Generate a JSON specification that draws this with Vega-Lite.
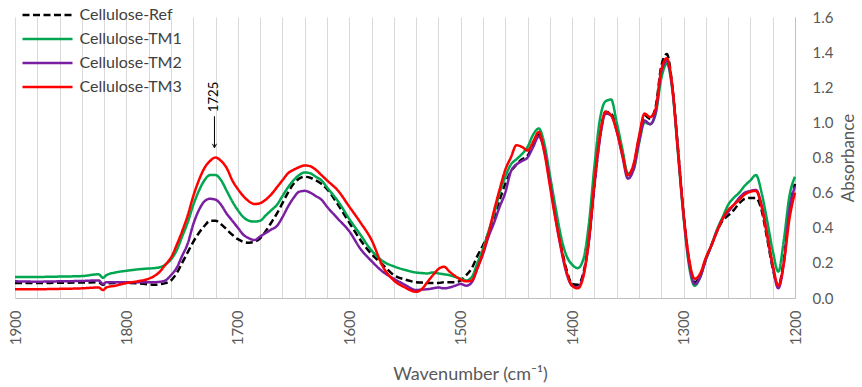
{
  "$schema": "https://vega.github.io/schema/vega-lite/v6.json",
  "width": 780,
  "height": 281,
  "autosize": "none",
  "padding": {"left": 15, "top": 17, "right": 67, "bottom": 89},
  "background": "white",
  "config": {
    "view": {"stroke": null},
    "font": "Lato"
  },
  "encoding": {
    "x": {
      "field": "w", "type": "quantitative",
      "scale": {"domain": [1200, 1900], "reverse": true, "nice": false, "zero": false},
      "axis": {
        "values": [1900,1880,1860,1840,1820,1800,1780,1760,1740,1720,1700,1680,1660,1640,1620,1600,1580,1560,1540,1520,1500,1480,1460,1440,1420,1400,1380,1360,1340,1320,1300,1280,1260,1240,1220,1200],
        "labelExpr": "datum.value % 100 === 0 ? datum.label : ''",
        "format": "d",
        "grid": true, "gridColor": "#d9d9d9", "gridWidth": 1,
        "ticks": false,
        "domainColor": "#bfbfbf", "domainWidth": 1,
        "labelAngle": 270, "labelFontSize": 15, "labelColor": "#595959", "labelPadding": 12,
        "labelFlush": false, "labelOverlap": false,
        "title": "Wavenumber  (cm⁻¹)", "titleFontSize": 18, "titleFontWeight": "normal", "titleColor": "#595959",
        "titleX": 455, "titleY": 76, "titleAlign": "center", "titleBaseline": "middle"
      }
    },
    "y": {
      "field": "a", "type": "quantitative",
      "scale": {"domain": [0, 1.6], "nice": false, "zero": false},
      "axis": {
        "orient": "right",
        "values": [0, 0.2, 0.4, 0.6, 0.8, 1.0, 1.2, 1.4, 1.6],
        "format": ".1f",
        "grid": false, "ticks": false,
        "domainColor": "#bfbfbf", "domainWidth": 1,
        "labelFontSize": 15, "labelColor": "#595959", "labelPadding": 17, "labelFlush": false, "labelOverlap": false,
        "title": "Absorbance", "titleFontSize": 17, "titleFontWeight": "normal", "titleColor": "#595959",
        "titleAngle": 270, "titleX": 53, "titleY": 140.5, "titleAlign": "center", "titleBaseline": "middle"
      }
    }
  },
  "layer": [
    {
      "data": {"values": [
        {"w":1900,"Cellulose-Ref":0.085,"Cellulose-TM1":0.12,"Cellulose-TM2":0.095,"Cellulose-TM3":0.05},
        {"w":1880,"Cellulose-Ref":0.085,"Cellulose-TM1":0.12,"Cellulose-TM2":0.093,"Cellulose-TM3":0.05},
        {"w":1860,"Cellulose-Ref":0.087,"Cellulose-TM1":0.122,"Cellulose-TM2":0.095,"Cellulose-TM3":0.052},
        {"w":1840,"Cellulose-Ref":0.088,"Cellulose-TM1":0.125,"Cellulose-TM2":0.097,"Cellulose-TM3":0.055},
        {"w":1825,"Cellulose-Ref":0.09,"Cellulose-TM1":0.135,"Cellulose-TM2":0.1,"Cellulose-TM3":0.06},
        {"w":1821,"Cellulose-Ref":0.075,"Cellulose-TM1":0.115,"Cellulose-TM2":0.08,"Cellulose-TM3":0.045},
        {"w":1818,"Cellulose-Ref":0.082,"Cellulose-TM1":0.13,"Cellulose-TM2":0.09,"Cellulose-TM3":0.06},
        {"w":1810,"Cellulose-Ref":0.085,"Cellulose-TM1":0.145,"Cellulose-TM2":0.09,"Cellulose-TM3":0.07},
        {"w":1800,"Cellulose-Ref":0.085,"Cellulose-TM1":0.155,"Cellulose-TM2":0.09,"Cellulose-TM3":0.085},
        {"w":1790,"Cellulose-Ref":0.083,"Cellulose-TM1":0.163,"Cellulose-TM2":0.09,"Cellulose-TM3":0.095},
        {"w":1780,"Cellulose-Ref":0.078,"Cellulose-TM1":0.168,"Cellulose-TM2":0.09,"Cellulose-TM3":0.11},
        {"w":1775,"Cellulose-Ref":0.075,"Cellulose-TM1":0.17,"Cellulose-TM2":0.09,"Cellulose-TM3":0.125},
        {"w":1770,"Cellulose-Ref":0.078,"Cellulose-TM1":0.175,"Cellulose-TM2":0.092,"Cellulose-TM3":0.15},
        {"w":1765,"Cellulose-Ref":0.085,"Cellulose-TM1":0.19,"Cellulose-TM2":0.1,"Cellulose-TM3":0.19},
        {"w":1760,"Cellulose-Ref":0.1,"Cellulose-TM1":0.22,"Cellulose-TM2":0.13,"Cellulose-TM3":0.23},
        {"w":1755,"Cellulose-Ref":0.14,"Cellulose-TM1":0.27,"Cellulose-TM2":0.17,"Cellulose-TM3":0.3},
        {"w":1750,"Cellulose-Ref":0.2,"Cellulose-TM1":0.35,"Cellulose-TM2":0.24,"Cellulose-TM3":0.38},
        {"w":1745,"Cellulose-Ref":0.26,"Cellulose-TM1":0.43,"Cellulose-TM2":0.31,"Cellulose-TM3":0.47},
        {"w":1740,"Cellulose-Ref":0.32,"Cellulose-TM1":0.53,"Cellulose-TM2":0.42,"Cellulose-TM3":0.58},
        {"w":1735,"Cellulose-Ref":0.37,"Cellulose-TM1":0.61,"Cellulose-TM2":0.5,"Cellulose-TM3":0.67},
        {"w":1730,"Cellulose-Ref":0.41,"Cellulose-TM1":0.67,"Cellulose-TM2":0.55,"Cellulose-TM3":0.74},
        {"w":1725,"Cellulose-Ref":0.44,"Cellulose-TM1":0.7,"Cellulose-TM2":0.565,"Cellulose-TM3":0.78},
        {"w":1720,"Cellulose-Ref":0.44,"Cellulose-TM1":0.7,"Cellulose-TM2":0.56,"Cellulose-TM3":0.8},
        {"w":1715,"Cellulose-Ref":0.42,"Cellulose-TM1":0.67,"Cellulose-TM2":0.53,"Cellulose-TM3":0.78},
        {"w":1710,"Cellulose-Ref":0.39,"Cellulose-TM1":0.61,"Cellulose-TM2":0.48,"Cellulose-TM3":0.74},
        {"w":1705,"Cellulose-Ref":0.36,"Cellulose-TM1":0.55,"Cellulose-TM2":0.44,"Cellulose-TM3":0.67},
        {"w":1700,"Cellulose-Ref":0.335,"Cellulose-TM1":0.5,"Cellulose-TM2":0.4,"Cellulose-TM3":0.62},
        {"w":1695,"Cellulose-Ref":0.32,"Cellulose-TM1":0.46,"Cellulose-TM2":0.36,"Cellulose-TM3":0.58},
        {"w":1690,"Cellulose-Ref":0.315,"Cellulose-TM1":0.44,"Cellulose-TM2":0.34,"Cellulose-TM3":0.55},
        {"w":1685,"Cellulose-Ref":0.32,"Cellulose-TM1":0.435,"Cellulose-TM2":0.33,"Cellulose-TM3":0.535},
        {"w":1680,"Cellulose-Ref":0.34,"Cellulose-TM1":0.44,"Cellulose-TM2":0.35,"Cellulose-TM3":0.54},
        {"w":1675,"Cellulose-Ref":0.38,"Cellulose-TM1":0.47,"Cellulose-TM2":0.37,"Cellulose-TM3":0.56},
        {"w":1670,"Cellulose-Ref":0.43,"Cellulose-TM1":0.5,"Cellulose-TM2":0.39,"Cellulose-TM3":0.59},
        {"w":1665,"Cellulose-Ref":0.48,"Cellulose-TM1":0.53,"Cellulose-TM2":0.41,"Cellulose-TM3":0.63},
        {"w":1660,"Cellulose-Ref":0.54,"Cellulose-TM1":0.58,"Cellulose-TM2":0.46,"Cellulose-TM3":0.67},
        {"w":1655,"Cellulose-Ref":0.6,"Cellulose-TM1":0.63,"Cellulose-TM2":0.52,"Cellulose-TM3":0.71},
        {"w":1650,"Cellulose-Ref":0.65,"Cellulose-TM1":0.67,"Cellulose-TM2":0.57,"Cellulose-TM3":0.73},
        {"w":1645,"Cellulose-Ref":0.68,"Cellulose-TM1":0.7,"Cellulose-TM2":0.605,"Cellulose-TM3":0.745},
        {"w":1640,"Cellulose-Ref":0.69,"Cellulose-TM1":0.715,"Cellulose-TM2":0.61,"Cellulose-TM3":0.755},
        {"w":1635,"Cellulose-Ref":0.685,"Cellulose-TM1":0.71,"Cellulose-TM2":0.6,"Cellulose-TM3":0.75},
        {"w":1630,"Cellulose-Ref":0.67,"Cellulose-TM1":0.69,"Cellulose-TM2":0.58,"Cellulose-TM3":0.73},
        {"w":1625,"Cellulose-Ref":0.65,"Cellulose-TM1":0.67,"Cellulose-TM2":0.56,"Cellulose-TM3":0.7},
        {"w":1620,"Cellulose-Ref":0.62,"Cellulose-TM1":0.63,"Cellulose-TM2":0.52,"Cellulose-TM3":0.67},
        {"w":1610,"Cellulose-Ref":0.53,"Cellulose-TM1":0.55,"Cellulose-TM2":0.45,"Cellulose-TM3":0.61},
        {"w":1600,"Cellulose-Ref":0.43,"Cellulose-TM1":0.45,"Cellulose-TM2":0.38,"Cellulose-TM3":0.52},
        {"w":1590,"Cellulose-Ref":0.33,"Cellulose-TM1":0.36,"Cellulose-TM2":0.28,"Cellulose-TM3":0.43},
        {"w":1580,"Cellulose-Ref":0.25,"Cellulose-TM1":0.27,"Cellulose-TM2":0.21,"Cellulose-TM3":0.33},
        {"w":1570,"Cellulose-Ref":0.19,"Cellulose-TM1":0.21,"Cellulose-TM2":0.15,"Cellulose-TM3":0.18},
        {"w":1560,"Cellulose-Ref":0.13,"Cellulose-TM1":0.18,"Cellulose-TM2":0.11,"Cellulose-TM3":0.1},
        {"w":1550,"Cellulose-Ref":0.105,"Cellulose-TM1":0.16,"Cellulose-TM2":0.075,"Cellulose-TM3":0.06},
        {"w":1540,"Cellulose-Ref":0.09,"Cellulose-TM1":0.145,"Cellulose-TM2":0.045,"Cellulose-TM3":0.035},
        {"w":1535,"Cellulose-Ref":0.088,"Cellulose-TM1":0.142,"Cellulose-TM2":0.048,"Cellulose-TM3":0.05},
        {"w":1530,"Cellulose-Ref":0.085,"Cellulose-TM1":0.14,"Cellulose-TM2":0.05,"Cellulose-TM3":0.09},
        {"w":1525,"Cellulose-Ref":0.085,"Cellulose-TM1":0.145,"Cellulose-TM2":0.055,"Cellulose-TM3":0.13},
        {"w":1520,"Cellulose-Ref":0.085,"Cellulose-TM1":0.14,"Cellulose-TM2":0.06,"Cellulose-TM3":0.165},
        {"w":1515,"Cellulose-Ref":0.09,"Cellulose-TM1":0.135,"Cellulose-TM2":0.055,"Cellulose-TM3":0.178},
        {"w":1510,"Cellulose-Ref":0.09,"Cellulose-TM1":0.13,"Cellulose-TM2":0.06,"Cellulose-TM3":0.15},
        {"w":1505,"Cellulose-Ref":0.09,"Cellulose-TM1":0.12,"Cellulose-TM2":0.07,"Cellulose-TM3":0.125},
        {"w":1500,"Cellulose-Ref":0.1,"Cellulose-TM1":0.11,"Cellulose-TM2":0.08,"Cellulose-TM3":0.105},
        {"w":1495,"Cellulose-Ref":0.13,"Cellulose-TM1":0.1,"Cellulose-TM2":0.07,"Cellulose-TM3":0.095},
        {"w":1490,"Cellulose-Ref":0.17,"Cellulose-TM1":0.12,"Cellulose-TM2":0.09,"Cellulose-TM3":0.1},
        {"w":1485,"Cellulose-Ref":0.24,"Cellulose-TM1":0.2,"Cellulose-TM2":0.17,"Cellulose-TM3":0.17},
        {"w":1480,"Cellulose-Ref":0.3,"Cellulose-TM1":0.28,"Cellulose-TM2":0.25,"Cellulose-TM3":0.26},
        {"w":1475,"Cellulose-Ref":0.37,"Cellulose-TM1":0.38,"Cellulose-TM2":0.35,"Cellulose-TM3":0.37},
        {"w":1470,"Cellulose-Ref":0.46,"Cellulose-TM1":0.48,"Cellulose-TM2":0.43,"Cellulose-TM3":0.5},
        {"w":1465,"Cellulose-Ref":0.56,"Cellulose-TM1":0.6,"Cellulose-TM2":0.52,"Cellulose-TM3":0.62},
        {"w":1460,"Cellulose-Ref":0.65,"Cellulose-TM1":0.69,"Cellulose-TM2":0.6,"Cellulose-TM3":0.73},
        {"w":1455,"Cellulose-Ref":0.72,"Cellulose-TM1":0.76,"Cellulose-TM2":0.72,"Cellulose-TM3":0.8},
        {"w":1450,"Cellulose-Ref":0.76,"Cellulose-TM1":0.79,"Cellulose-TM2":0.76,"Cellulose-TM3":0.87},
        {"w":1445,"Cellulose-Ref":0.79,"Cellulose-TM1":0.82,"Cellulose-TM2":0.78,"Cellulose-TM3":0.86},
        {"w":1440,"Cellulose-Ref":0.81,"Cellulose-TM1":0.86,"Cellulose-TM2":0.8,"Cellulose-TM3":0.84},
        {"w":1435,"Cellulose-Ref":0.87,"Cellulose-TM1":0.93,"Cellulose-TM2":0.86,"Cellulose-TM3":0.89},
        {"w":1430,"Cellulose-Ref":0.93,"Cellulose-TM1":0.965,"Cellulose-TM2":0.92,"Cellulose-TM3":0.945},
        {"w":1425,"Cellulose-Ref":0.85,"Cellulose-TM1":0.88,"Cellulose-TM2":0.84,"Cellulose-TM3":0.83},
        {"w":1420,"Cellulose-Ref":0.68,"Cellulose-TM1":0.7,"Cellulose-TM2":0.66,"Cellulose-TM3":0.64},
        {"w":1415,"Cellulose-Ref":0.48,"Cellulose-TM1":0.52,"Cellulose-TM2":0.46,"Cellulose-TM3":0.45},
        {"w":1410,"Cellulose-Ref":0.3,"Cellulose-TM1":0.35,"Cellulose-TM2":0.28,"Cellulose-TM3":0.29},
        {"w":1405,"Cellulose-Ref":0.16,"Cellulose-TM1":0.24,"Cellulose-TM2":0.14,"Cellulose-TM3":0.15},
        {"w":1400,"Cellulose-Ref":0.08,"Cellulose-TM1":0.19,"Cellulose-TM2":0.07,"Cellulose-TM3":0.07},
        {"w":1395,"Cellulose-Ref":0.075,"Cellulose-TM1":0.17,"Cellulose-TM2":0.06,"Cellulose-TM3":0.055},
        {"w":1390,"Cellulose-Ref":0.14,"Cellulose-TM1":0.22,"Cellulose-TM2":0.13,"Cellulose-TM3":0.12},
        {"w":1385,"Cellulose-Ref":0.33,"Cellulose-TM1":0.42,"Cellulose-TM2":0.32,"Cellulose-TM3":0.33},
        {"w":1380,"Cellulose-Ref":0.64,"Cellulose-TM1":0.75,"Cellulose-TM2":0.64,"Cellulose-TM3":0.66},
        {"w":1375,"Cellulose-Ref":0.92,"Cellulose-TM1":1.02,"Cellulose-TM2":0.91,"Cellulose-TM3":0.93},
        {"w":1370,"Cellulose-Ref":1.06,"Cellulose-TM1":1.12,"Cellulose-TM2":1.05,"Cellulose-TM3":1.06},
        {"w":1365,"Cellulose-Ref":1.05,"Cellulose-TM1":1.13,"Cellulose-TM2":1.04,"Cellulose-TM3":1.04},
        {"w":1360,"Cellulose-Ref":0.96,"Cellulose-TM1":1.0,"Cellulose-TM2":0.95,"Cellulose-TM3":0.95},
        {"w":1355,"Cellulose-Ref":0.83,"Cellulose-TM1":0.85,"Cellulose-TM2":0.81,"Cellulose-TM3":0.82},
        {"w":1350,"Cellulose-Ref":0.7,"Cellulose-TM1":0.71,"Cellulose-TM2":0.68,"Cellulose-TM3":0.7},
        {"w":1345,"Cellulose-Ref":0.75,"Cellulose-TM1":0.73,"Cellulose-TM2":0.73,"Cellulose-TM3":0.76},
        {"w":1340,"Cellulose-Ref":0.91,"Cellulose-TM1":0.88,"Cellulose-TM2":0.89,"Cellulose-TM3":0.92},
        {"w":1335,"Cellulose-Ref":1.04,"Cellulose-TM1":1.0,"Cellulose-TM2":1.01,"Cellulose-TM3":1.05},
        {"w":1330,"Cellulose-Ref":1.02,"Cellulose-TM1":0.99,"Cellulose-TM2":0.99,"Cellulose-TM3":1.03},
        {"w":1325,"Cellulose-Ref":1.09,"Cellulose-TM1":1.05,"Cellulose-TM2":1.06,"Cellulose-TM3":1.08},
        {"w":1320,"Cellulose-Ref":1.32,"Cellulose-TM1":1.25,"Cellulose-TM2":1.29,"Cellulose-TM3":1.3},
        {"w":1315,"Cellulose-Ref":1.39,"Cellulose-TM1":1.335,"Cellulose-TM2":1.35,"Cellulose-TM3":1.365},
        {"w":1310,"Cellulose-Ref":1.2,"Cellulose-TM1":1.18,"Cellulose-TM2":1.19,"Cellulose-TM3":1.2},
        {"w":1305,"Cellulose-Ref":0.85,"Cellulose-TM1":0.82,"Cellulose-TM2":0.84,"Cellulose-TM3":0.84},
        {"w":1300,"Cellulose-Ref":0.48,"Cellulose-TM1":0.46,"Cellulose-TM2":0.47,"Cellulose-TM3":0.48},
        {"w":1295,"Cellulose-Ref":0.21,"Cellulose-TM1":0.18,"Cellulose-TM2":0.2,"Cellulose-TM3":0.22},
        {"w":1290,"Cellulose-Ref":0.09,"Cellulose-TM1":0.07,"Cellulose-TM2":0.08,"Cellulose-TM3":0.11},
        {"w":1285,"Cellulose-Ref":0.13,"Cellulose-TM1":0.12,"Cellulose-TM2":0.12,"Cellulose-TM3":0.14},
        {"w":1280,"Cellulose-Ref":0.22,"Cellulose-TM1":0.22,"Cellulose-TM2":0.22,"Cellulose-TM3":0.23},
        {"w":1275,"Cellulose-Ref":0.3,"Cellulose-TM1":0.3,"Cellulose-TM2":0.3,"Cellulose-TM3":0.3},
        {"w":1270,"Cellulose-Ref":0.38,"Cellulose-TM1":0.39,"Cellulose-TM2":0.38,"Cellulose-TM3":0.38},
        {"w":1265,"Cellulose-Ref":0.44,"Cellulose-TM1":0.46,"Cellulose-TM2":0.45,"Cellulose-TM3":0.45},
        {"w":1260,"Cellulose-Ref":0.47,"Cellulose-TM1":0.53,"Cellulose-TM2":0.49,"Cellulose-TM3":0.5},
        {"w":1255,"Cellulose-Ref":0.5,"Cellulose-TM1":0.57,"Cellulose-TM2":0.53,"Cellulose-TM3":0.53},
        {"w":1250,"Cellulose-Ref":0.54,"Cellulose-TM1":0.6,"Cellulose-TM2":0.57,"Cellulose-TM3":0.56},
        {"w":1245,"Cellulose-Ref":0.565,"Cellulose-TM1":0.64,"Cellulose-TM2":0.6,"Cellulose-TM3":0.59},
        {"w":1240,"Cellulose-Ref":0.57,"Cellulose-TM1":0.67,"Cellulose-TM2":0.61,"Cellulose-TM3":0.605},
        {"w":1235,"Cellulose-Ref":0.57,"Cellulose-TM1":0.7,"Cellulose-TM2":0.615,"Cellulose-TM3":0.61},
        {"w":1230,"Cellulose-Ref":0.5,"Cellulose-TM1":0.6,"Cellulose-TM2":0.53,"Cellulose-TM3":0.52},
        {"w":1225,"Cellulose-Ref":0.34,"Cellulose-TM1":0.44,"Cellulose-TM2":0.36,"Cellulose-TM3":0.36},
        {"w":1220,"Cellulose-Ref":0.17,"Cellulose-TM1":0.27,"Cellulose-TM2":0.18,"Cellulose-TM3":0.19},
        {"w":1215,"Cellulose-Ref":0.065,"Cellulose-TM1":0.15,"Cellulose-TM2":0.055,"Cellulose-TM3":0.07},
        {"w":1210,"Cellulose-Ref":0.22,"Cellulose-TM1":0.33,"Cellulose-TM2":0.2,"Cellulose-TM3":0.2},
        {"w":1205,"Cellulose-Ref":0.5,"Cellulose-TM1":0.58,"Cellulose-TM2":0.5,"Cellulose-TM3":0.45},
        {"w":1200,"Cellulose-Ref":0.65,"Cellulose-TM1":0.69,"Cellulose-TM2":0.635,"Cellulose-TM3":0.6}
      ]},
      "transform": [
        {"fold": ["Cellulose-Ref", "Cellulose-TM1", "Cellulose-TM2", "Cellulose-TM3"], "as": ["series", "a"]}
      ],
      "mark": {"type": "line", "interpolate": "monotone", "strokeCap": "butt", "strokeJoin": "round"},
      "encoding": {
        "color": {
          "field": "series", "type": "nominal",
          "scale": {"domain": ["Cellulose-Ref", "Cellulose-TM1", "Cellulose-TM2", "Cellulose-TM3"], "range": ["#000000", "#00a650", "#7a1fa2", "#ff0000"]},
          "legend": {"orient": "none", "legendX": 24.5, "legendY": -10, "title": null, "symbolType": "M-10,0L10,0", "symbolSize": 25, "labelOffset": 24, "rowPadding": 8, "labelFontSize": 16, "labelFont": "Lato", "labelColor": "#404040", "padding": 0}
        },
        "strokeDash": {
          "field": "series", "type": "nominal",
          "scale": {"domain": ["Cellulose-Ref", "Cellulose-TM1", "Cellulose-TM2", "Cellulose-TM3"], "range": [[7, 3.5], [1, 0], [1, 0], [1, 0]]},
          "legend": {"orient": "none", "legendX": 24.5, "legendY": -10, "title": null, "symbolType": "M-10,0L10,0", "symbolSize": 25, "labelOffset": 24, "rowPadding": 8, "labelFontSize": 16, "labelFont": "Lato", "labelColor": "#404040", "padding": 0}
        },
        "strokeWidth": {
          "field": "series", "type": "nominal",
          "scale": {"domain": ["Cellulose-Ref", "Cellulose-TM1", "Cellulose-TM2", "Cellulose-TM3"], "range": [2.5, 2.5, 2.7, 3.2]},
          "legend": {"orient": "none", "legendX": 24.5, "legendY": -10, "title": null, "symbolType": "M-10,0L10,0", "symbolSize": 25, "labelOffset": 24, "rowPadding": 8, "labelFontSize": 16, "labelFont": "Lato", "labelColor": "#404040", "padding": 0}
        }
      }
    },
    {
      "data": {"values": [{"w": 1721, "a": 1.035, "a2": 0.86}]},
      "mark": {"type": "rule", "color": "#000000", "strokeWidth": 1},
      "encoding": {"y2": {"field": "a2"}}
    },
    {
      "data": {"values": [{"w": 1721, "a": 0.855}]},
      "mark": {"type": "point", "shape": "M-1,-2L0,0L1,-2", "size": 16, "filled": false, "stroke": "#000000", "strokeWidth": 1, "opacity": 1},
      "encoding": {}
    },
    {
      "data": {"values": [{"w": 1721, "a": 1.145, "label": "1725"}]},
      "mark": {"type": "text", "angle": 270, "align": "center", "baseline": "middle", "fontSize": 13, "font": "Lato", "color": "#000000"},
      "encoding": {"text": {"field": "label"}}
    }
  ]
}
